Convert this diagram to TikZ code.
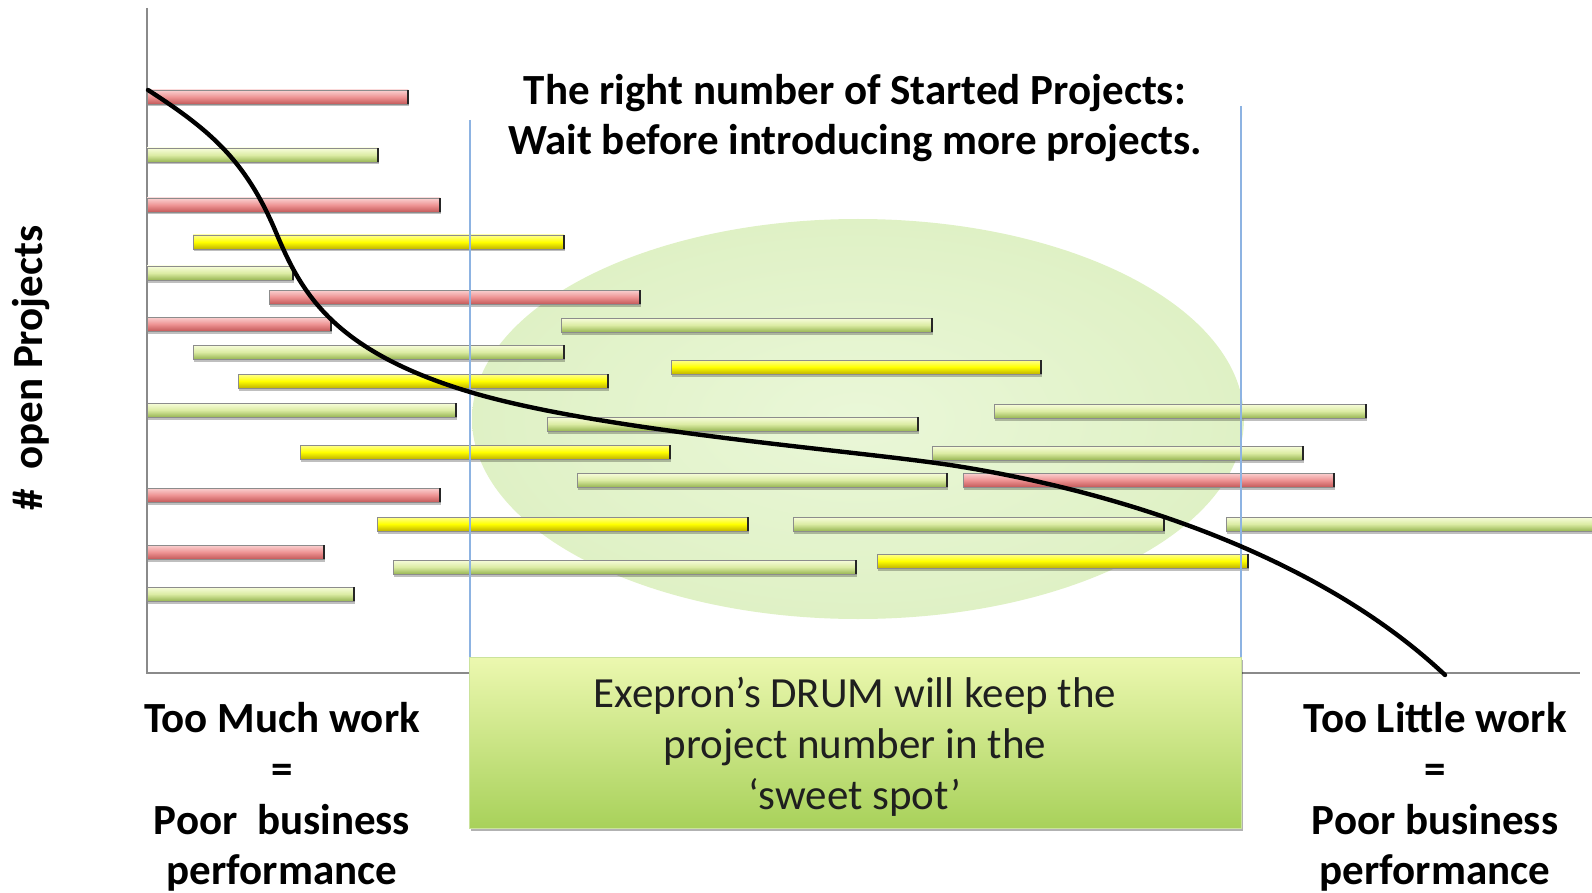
\documentclass[tikz,border=0pt]{standalone}
\usepackage{fontspec}
\setmainfont{Carlito}
\usetikzlibrary{shadows}
\definecolor{redT}{HTML}{FAD2D2}
\definecolor{redM}{HTML}{EE9494}
\definecolor{redB}{HTML}{C45A5A}
\definecolor{grnT}{HTML}{F8FDDC}
\definecolor{grnM}{HTML}{DCECA4}
\definecolor{grnB}{HTML}{98B654}
\definecolor{yelT}{HTML}{FFFF90}
\definecolor{yelM}{HTML}{FFFF00}
\definecolor{yelB}{HTML}{C0B400}
\definecolor{ellIn}{HTML}{EAF7D8}
\definecolor{ellOut}{HTML}{DFF1C5}
\definecolor{boxT}{HTML}{ECF8B0}
\definecolor{boxB}{HTML}{A8D15A}
\definecolor{blueline}{HTML}{8DB3E2}
\definecolor{axisgrey}{HTML}{8A8A8A}
\tikzset{
  bigtext/.style={font=\fontsize{43}{50.8}\selectfont, align=center, inner sep=0pt},
  boldtext/.style={bigtext, font=\fontsize{43}{50.8}\selectfont\bfseries},
  barshadow/.style={drop shadow={shadow xshift=1pt, shadow yshift=-2.5pt, opacity=0.25, fill=black}},
  guide/.style={blueline, line width=1.1pt},
}
\newcommand\projbar[4]{%
  \fill[top color=#1T, bottom color=#1B, middle color=#1M, barshadow] (#2,#4-7) rectangle (#3,#4+7);
  \draw[black!45, line width=0.6pt] (#2,#4-7) rectangle (#3,#4+7);
  \draw[black!85, line width=1.4pt] (#3,#4-7) -- (#3,#4+7);
}
\begin{document}
\begin{tikzpicture}[x=1pt, y=-1pt]
\useasboundingbox (0,0) rectangle (1592,893);
% sweet-spot ellipse
\shade[inner color=ellIn, outer color=ellOut] (858,419) ellipse [x radius=386, y radius=200];
% axes
\draw[axisgrey, line width=1.6pt] (147,8) -- (147,673) -- (1580,673);
% project bars
\projbar{red}{147}{408}{97}
\projbar{grn}{147}{378}{155}
\projbar{red}{147}{440}{205}
\projbar{yel}{193}{564}{242}
\projbar{grn}{147}{293}{273}
\projbar{red}{269}{640}{297}
\projbar{red}{147}{331}{324}
\projbar{grn}{561}{932}{325}
\projbar{grn}{193}{564}{352}
\projbar{yel}{671}{1041}{367}
\projbar{yel}{238}{608}{381}
\projbar{grn}{147}{456}{410}
\projbar{grn}{994}{1366}{411}
\projbar{grn}{547}{918}{424}
\projbar{yel}{300}{670}{452}
\projbar{grn}{932}{1303}{453}
\projbar{grn}{577}{947}{480}
\projbar{red}{963}{1334}{480}
\projbar{red}{147}{440}{495}
\projbar{yel}{377}{748}{524}
\projbar{grn}{793}{1164}{524}
\projbar{grn}{1226}{1600}{524}
\projbar{red}{147}{324}{552}
\projbar{yel}{877}{1248}{561}
\projbar{grn}{393}{856}{567}
\projbar{grn}{147}{354}{594}
% guide lines
\draw[guide] (470,120) -- (470,660);
\draw[guide] (1241,106) -- (1241,673);
% DRUM box
\node[minimum width=772pt, minimum height=171pt, top color=boxT, bottom color=boxB,
      draw=boxB!60!white, line width=0.8pt,
      drop shadow={shadow xshift=2pt, shadow yshift=-3pt, opacity=0.3, fill=black}] (drum) at (855,742.5) {};
\node[bigtext, text=black!88] (drumtext) at (855,747)
  {Exepron’s DRUM will keep the\\project number in the\\‘sweet spot’};
% curve
\draw[black, line width=4.4pt, line cap=round]
  (148,90) .. controls (210,130) and (245,160) .. (275,230)
  .. controls (300,290) and (330,350) .. (470,392)
  .. controls (600,431) and (850,450) .. (950,465)
  .. controls (1100,488) and (1310,548) .. (1445,675);
% texts
\node[boldtext] (title) at (855,118) {The right number of Started Projects:\\Wait before introducing more projects.};
\node[boldtext] (left) at (282,797) {Too Much work\\=\\Poor\ \ business\\performance};
\node[boldtext] (right) at (1435,797) {Too Little work\\=\\Poor business\\performance};
\node[boldtext, rotate=90] (ylabel) at (31,368) {\#\ \ open Projects};
\end{tikzpicture}
\end{document}
